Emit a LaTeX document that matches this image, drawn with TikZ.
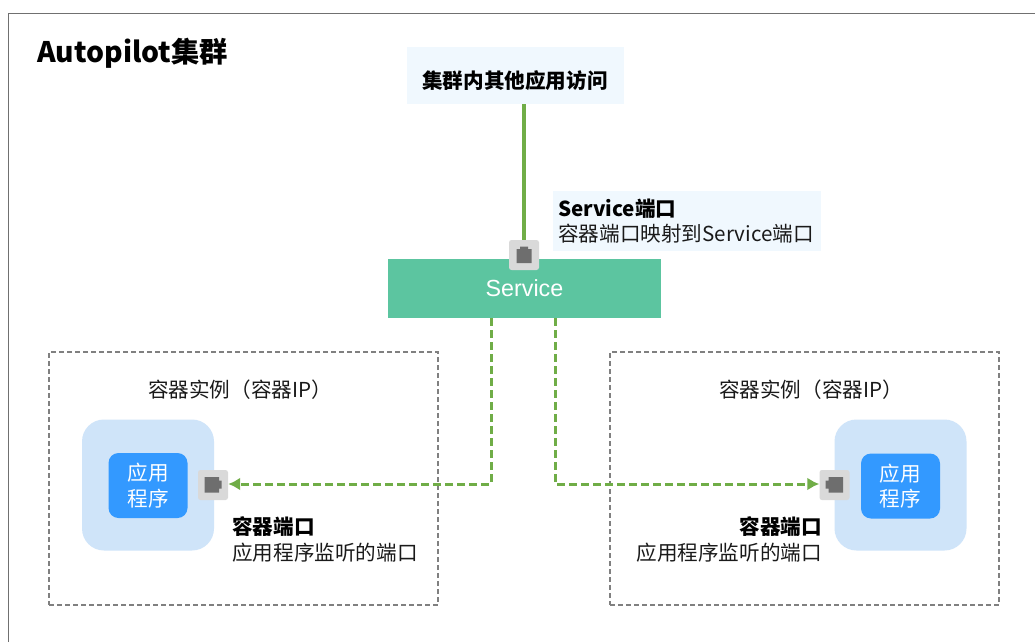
\documentclass[tikz,border=0pt]{standalone}
\usepackage{fontspec}
\setmainfont{Noto Sans CJK SC}
\newfontfamily\svcfont{Liberation Sans}
\usetikzlibrary{arrows.meta,calc}
\definecolor{framegray}{HTML}{707070}
\definecolor{dashgray}{HTML}{808080}
\definecolor{linkgreen}{HTML}{70AD47}
\definecolor{svcgreen}{HTML}{5CC5A0}
\definecolor{paleblue}{HTML}{F0F8FE}
\definecolor{podblue}{HTML}{CFE4F9}
\definecolor{appblue}{HTML}{3399FF}
\definecolor{portgray}{HTML}{D9D9D9}
\definecolor{icongray}{HTML}{6E6E6E}
\definecolor{inkdark}{HTML}{1A1A1A}
\tikzset{
  x=1pt,y=-1pt,
  txt/.style={font=\fontsize{20.6}{26}\selectfont,text=inkdark,inner sep=0pt},
  hd/.style={txt,font=\fontsize{20.6}{26}\selectfont\bfseries,text=black},
  callout/.style={fill=paleblue,draw=none,inner sep=0pt},
  podbox/.style={draw=dashgray,line width=1.2pt,dash pattern=on 5pt off 3pt,fill=none,inner sep=0pt},
  podbg/.style={fill=podblue,draw=none,rounded corners=22pt,minimum width=132pt,minimum height=131pt,inner sep=0pt},
  appbox/.style={fill=appblue,draw=none,rounded corners=10pt,minimum width=79pt,minimum height=65pt,inner sep=0pt,text=white,align=center,font=\fontsize{20.6}{25.5}\selectfont},
  portbox/.style={fill=portgray,draw=none,rounded corners=2.5pt,minimum size=30pt,inner sep=0pt},
  solidlink/.style={draw=linkgreen,line width=4pt},
  dashlink/.style={draw=linkgreen,line width=3pt,dash pattern=on 8pt off 4pt,-{Latex[length=12pt,width=13pt]}},
}
\begin{document}
\begin{tikzpicture}
\useasboundingbox (0,0) rectangle (1035,642);
\fill[white] (0,0) rectangle (1035,642);
% outer frame
\draw[framegray,line width=1.5pt] (8.5,642) -- (8.5,13.5) -- (1035,13.5);
\node[anchor=west,inner sep=0pt,font=\fontsize{28.3}{33}\selectfont\bfseries,text=black] (title) at (37,53) {Autopilot集群};
% top box
\node[callout,minimum width=217pt,minimum height=57pt] (client) at (515.5,75.5) {};
\node[hd] (clientlabel) at (515,81) {集群内其他应用访问};
% service callout
\node[callout,minimum width=268pt,minimum height=60pt] (svcnote) at (687,221) {};
\node[hd,anchor=west] (svcnoteA) at (558,208.5) {Service端口};
\node[txt,anchor=west] (svcnoteB) at (558,233.5) {容器端口映射到Service端口};
% service
\node[fill=svcgreen,minimum width=273pt,minimum height=59pt,inner sep=0pt,text=white,font=\svcfont\fontsize{23.3}{28}\selectfont] (svc) at (524.5,288.5) {Service};
\coordinate (svcL) at (491,318);
\coordinate (svcR) at (555,318);
% pods
\node[podbox,minimum width=389pt,minimum height=253pt] (podL) at (243.5,478.5) {};
\node[podbox,minimum width=389pt,minimum height=253pt] (podR) at (804.5,478.5) {};
\node[txt] (podLlabel) at (240,390) {容器实例（容器IP）};
\node[txt] (podRlabel) at (811,390) {容器实例（容器IP）};
\node[podbg] (bgL) at (148,485) {};
\node[podbg] (bgR) at (900.5,485) {};
\node[appbox] (appL) at (148,485.5) {应用\\程序};
\node[appbox] (appR) at (900.5,486) {应用\\程序};
% ports
\node[portbox] (portS) at (524,255) {};
\node[portbox] (portL) at (213,485) {};
\node[portbox] (portR) at (834.5,485) {};
% icons
\fill[icongray] (516.5,263) -- (516.5,249) -- (520,249) -- (520,246.5) -- (528,246.5) -- (528,249) -- (531.5,249) -- (531.5,263) -- cycle;
\fill[icongray] (204.5,477) -- (219,477) -- (219,480.5) -- (221.5,480.5) -- (221.5,488.5) -- (219,488.5) -- (219,492.5) -- (204.5,492.5) -- cycle;
\fill[icongray] (843,477) -- (828.5,477) -- (828.5,480.5) -- (825.5,480.5) -- (825.5,488.5) -- (828.5,488.5) -- (828.5,492.5) -- (843,492.5) -- cycle;
% connectors
\draw[solidlink] (client.south -| portS.north) -- (portS.north);
\draw[dashlink] (svcL) |- ($(portL.east)+(0,-1)$);
\draw[dashlink] (svcR) |- ($(portR.west)+(0,-1)$);
% port labels
\node[hd,anchor=west] (pLa) at (232,527) {容器端口};
\node[txt,anchor=west] (pLb) at (232,552.5) {应用程序监听的端口};
\node[hd,anchor=east] (pRa) at (822,527) {容器端口};
\node[txt,anchor=east] (pRb) at (822,552.5) {应用程序监听的端口};
\end{tikzpicture}
\end{document}
